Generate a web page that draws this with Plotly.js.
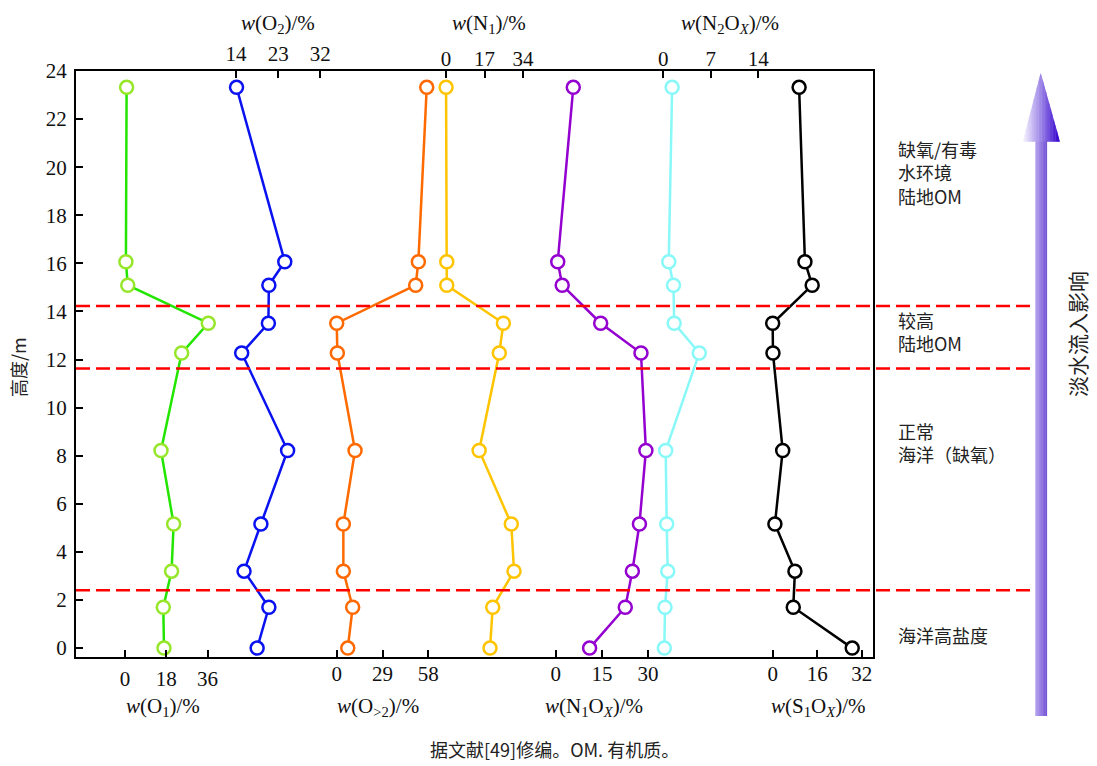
<!DOCTYPE html>
<html>
<head>
<meta charset="utf-8">
<script src="https://cdn.plot.ly/plotly-3.0.1.min.js"></script>
<style>html,body{margin:0;padding:0;background:#fff;}#chart{width:1097px;height:766px;}</style>
</head>
<body>
<div id="chart"></div>
<script>
// ---------- data ----------
const heights = [23.32, 16.07, 15.09, 13.51, 12.27, 8.22, 5.16, 3.2, 1.7, 0];
const wO1   = [0.7, 0.4, 1.2, 36.3, 24.7, 15.7, 21.2, 20.3, 16.7, 17.0];
const wO2   = [14.1, 24.4, 21.0, 20.9, 15.2, 25.0, 19.3, 15.7, 21.0, 18.5];
const wOgt2 = [57.0, 51.7, 50.0, 0.0, 0.4, 11.6, 4.2, 4.2, 10.1, 7.0];
const wN1   = [0.0, 0.3, 0.3, 25.3, 23.5, 14.6, 28.8, 30.0, 20.6, 19.4];
const wN1Ox = [5.7, 0.65, 2.1, 14.6, 27.7, 29.3, 27.2, 24.9, 22.6, 11.0];
const wN2Ox = [1.3, 0.8, 1.5, 1.6, 5.3, 0.35, 0.5, 0.65, 0.25, 0.15];
const wS1Ox = [9.5, 11.6, 14.2, 0.0, 0.1, 3.6, 0.8, 8.0, 7.4, 28.6];

const ticksO1 = [0, 18, 36];
const ticksO2 = [14, 23, 32];
const ticksOgt2 = [0, 29, 58];
const ticksN1 = [0, 17, 34];
const ticksN1Ox = [0, 15, 30];
const ticksN2Ox = [0, 7, 14];
const ticksS1Ox = [0, 16, 32];
const yTicks = [0, 2, 4, 6, 8, 10, 12, 14, 16, 18, 20, 22, 24];
const boundaries = [14.23, 11.63, 2.41];

const titles = {
  O1: '<i>w</i>(O<sub>1</sub>)/%',
  O2: '<i>w</i>(O<sub>2</sub>)/%',
  Ogt2: '<i>w</i>(O<sub>&gt;2</sub>)/%',
  N1: '<i>w</i>(N<sub>1</sub>)/%',
  N1Ox: '<i>w</i>(N<sub>1</sub>O<sub><i>X</i></sub>)/%',
  N2Ox: '<i>w</i>(N<sub>2</sub>O<sub><i>X</i></sub>)/%',
  S1Ox: '<i>w</i>(S<sub>1</sub>O<sub><i>X</i></sub>)/%'
};

const regionBlocks = [
  [['缺氧/有毒', '水环境', '陆地OM'], 172.7],
  [['较高', '陆地OM'], 331.7],
  [['正常', '海洋（缺氧）'], 442.4],
  [['海洋高盐度'], 635]
];

// ---------- geometry ----------
const W = 1097, H = 766;
const M = {l: 76, r: 224, t: 71, b: 109};
const PW = W - M.l - M.r, PH = H - M.t - M.b;
const px = p => (p - M.l) / PW;
const py = p => (H - M.b - p) / PH;

const SERIF = 'Liberation Serif, Times New Roman, serif';
const CJK = 'Noto Sans CJK SC, sans-serif';

function series(x, axis, lineColor, markerColor) {
  return {
    type: 'scatter', mode: 'lines+markers', x: x, y: heights,
    xaxis: axis, yaxis: 'y',
    line: {color: lineColor, width: 2.5},
    marker: {symbol: 'circle', size: 13, color: '#ffffff', line: {color: markerColor, width: 2.5}},
    showlegend: false, cliponaxis: false
  };
}

const traces = [
  series(wO1, 'x', '#22e600', '#96e62a'),
  series(wO2, 'x2', '#0a12f0', '#0a12f0'),
  series(wOgt2, 'x3', '#ff6a00', '#ff6a00'),
  series(wN1, 'x4', '#ffc400', '#ffc400'),
  series(wN1Ox, 'x5', '#9400d0', '#9400d0'),
  series(wN2Ox, 'x6', '#88f8f8', '#88f8f8'),
  series(wS1Ox, 'x7', '#000000', '#000000')
];

function xax(range, tickvals, side, showline, overlay) {
  const a = {
    range: range, autorange: false, side: side, anchor: 'y',
    tickmode: 'array', tickvals: tickvals,
    ticks: 'inside', ticklen: 7, tickwidth: 2, tickcolor: '#000',
    showgrid: false, zeroline: false,
    showline: showline, linewidth: 2, linecolor: '#000',
    tickfont: {family: SERIF, size: 21, color: '#111'},
    ticklabelstandoff: side === 'bottom' ? 2 : 0
  };
  if (overlay) a.overlaying = 'x';
  return a;
}

const layout = {
  width: W, height: H,
  margin: M,
  paper_bgcolor: '#ffffff', plot_bgcolor: '#ffffff',
  showlegend: false,
  xaxis:  xax([-21.36, 326.1], ticksO1, 'bottom', true, false),
  xaxis2: xax([-20.18, 150.0], ticksO2, 'top', true, true),
  xaxis3: xax([-165.1, 339.6], ticksOgt2, 'bottom', false, true),
  xaxis4: xax([-163.4, 188.5], ticksN1, 'top', false, true),
  xaxis5: xax([-155.9, 103.1], ticksN1Ox, 'bottom', false, true),
  xaxis6: xax([-86.55, 30.9], ticksN2Ox, 'top', false, true),
  xaxis7: xax([-250.5, 36.07], ticksS1Ox, 'bottom', false, true),
  yaxis: {
    range: [-0.37, 24], autorange: false,
    tickmode: 'array', tickvals: yTicks,
    ticks: 'inside', ticklen: 7, tickwidth: 2, tickcolor: '#000',
    showgrid: false, zeroline: false,
    showline: true, mirror: true, linewidth: 2, linecolor: '#000',
    tickfont: {family: SERIF, size: 21, color: '#111'},
    ticklabelstandoff: 3
  },
  shapes: [],
  annotations: []
};

// red dashed boundaries
boundaries.forEach(b => {
  layout.shapes.push({
    type: 'line', xref: 'paper', yref: 'y', x0: 0, x1: px(1033), y0: b, y1: b,
    line: {color: '#ff0000', width: 2.5, dash: '14px,6px'}, layer: 'above'
  });
});

// gradient arrow (decoration)
function hex2rgb(h){return [1,3,5].map(i=>parseInt(h.substr(i,2),16));}
function mix(a,b,t){const A=hex2rgb(a),B=hex2rgb(b);return 'rgb('+A.map((v,i)=>Math.round(v+(B[i]-v)*t)).join(',')+')';}
(function arrow(){
  const sx0 = 1035.3, sx1 = 1046.7, sTop = 141, sBot = 716;
  const nS = 8;
  for (let i = 0; i < nS; i++) {
    const a = sx0 + (sx1 - sx0) * i / nS, b = sx0 + (sx1 - sx0) * (i + 1) / nS + 0.4;
    layout.shapes.push({type: 'rect', xref: 'paper', yref: 'paper',
      x0: px(a), x1: px(b), y0: py(sBot), y1: py(sTop),
      fillcolor: mix('#b3a0ee', '#7656d6', i / (nS - 1)), line: {width: 0}, layer: 'above'});
  }
  const hl = 1022.7, hr = 1060, tipx = 1040.7, tipy = 72.7, base = 141.7;
  const top = x => x <= tipx ? base - (x - hl) / (tipx - hl) * (base - tipy)
                             : tipy + (x - tipx) / (hr - tipx) * (base - tipy);
  const nH = 24;
  for (let i = 0; i < nH; i++) {
    const a = hl + (hr - hl) * i / nH, b = Math.min(hr, hl + (hr - hl) * (i + 1) / nH + 0.4);
    let d = 'M' + px(a) + ',' + py(base) + ' L' + px(a) + ',' + py(top(a));
    if (a < tipx && b > tipx) d += ' L' + px(tipx) + ',' + py(tipy);
    d += ' L' + px(b) + ',' + py(top(b)) + ' L' + px(b) + ',' + py(base) + ' Z';
    const t = i / (nH - 1);
    const col = t < 0.5 ? mix('#f6f3ff', '#9a82e6', t / 0.5) : mix('#9a82e6', '#3300cc', (t - 0.5) / 0.5);
    layout.shapes.push({type: 'path', xref: 'paper', yref: 'paper', path: d,
      fillcolor: col, line: {width: 0}, layer: 'above'});
  }
})();

// axis titles as annotations
function axTitle(text, xref, xv, top) {
  layout.annotations.push({text: text, xref: xref, yref: 'paper', x: xv,
    y: top ? py(24) : py(707), xanchor: 'center', yanchor: 'middle', showarrow: false,
    font: {family: SERIF, size: 21, color: '#111'}});
}
axTitle(titles.O1, 'x', 16.6, false);
axTitle(titles.O2, 'x2', 23, true);
axTitle(titles.Ogt2, 'x3', 26, false);
axTitle(titles.N1, 'x4', 19, true);
axTitle(titles.N1Ox, 'x5', 12.5, false);
axTitle(titles.N2Ox, 'x6', 9.8, true);
axTitle(titles.S1Ox, 'x7', 16.5, false);

// region labels
regionBlocks.forEach(r => {
  layout.annotations.push({text: r[0].join('<br>'), xref: 'paper', yref: 'paper', x: px(896), y: py(r[1]),
    xanchor: 'left', yanchor: 'middle', align: 'left', showarrow: false,
    font: {family: CJK, size: 18, color: '#222'}});
});

layout.annotations.push({text: '淡水流入影响', xref: 'paper', yref: 'paper', x: px(1077), y: py(334),
  xanchor: 'center', yanchor: 'middle', textangle: -90, showarrow: false,
  font: {family: CJK, size: 21, color: '#222'}});

layout.annotations.push({text: '高度/m', xref: 'paper', yref: 'paper', x: px(18), y: py(367),
  xanchor: 'center', yanchor: 'middle', textangle: -90, showarrow: false,
  font: {family: CJK, size: 18, color: '#222'}});

layout.annotations.push({text: '据文献[49]修编。OM. 有机质。', xref: 'paper', yref: 'paper', x: px(554), y: py(749),
  xanchor: 'center', yanchor: 'middle', showarrow: false,
  font: {family: CJK, size: 18, color: '#222'}});

Plotly.newPlot('chart', traces, layout, {staticPlot: true, displayModeBar: false});
</script>
</body>
</html>
